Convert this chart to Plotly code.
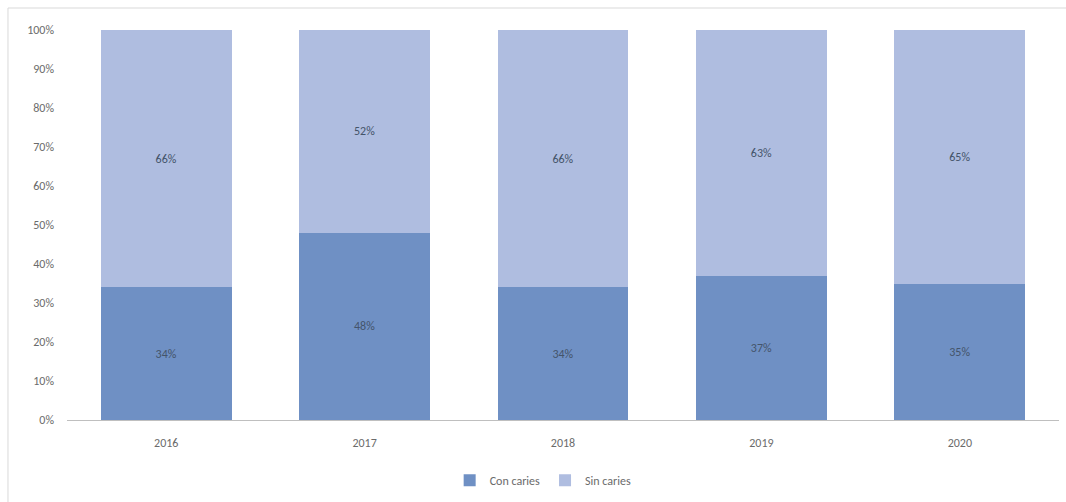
import plotly.graph_objects as go

# Annual share of examined patients with and without caries
years = ["2016", "2017", "2018", "2019", "2020"]
con_caries = [34, 48, 34, 37, 35]
sin_caries = [66, 52, 66, 63, 65]

color_con = "#6f90c4"
color_sin = "#afbde0"
label_color = "#44546a"
tick_color = "#6b6b6b"
font_family = "Calibri, Carlito, Open Sans, Liberation Sans, sans-serif"

fig = go.Figure()
fig.add_trace(go.Bar(
    x=years, y=con_caries, name="Con caries",
    marker=dict(color=color_con, line=dict(width=0)),
    text=[f"{v}%" for v in con_caries], textposition="inside",
    insidetextanchor="middle",
    textfont=dict(color=label_color, size=12, family=font_family),
))
fig.add_trace(go.Bar(
    x=years, y=sin_caries, name="Sin caries",
    marker=dict(color=color_sin, line=dict(width=0)),
    text=[f"{v}%" for v in sin_caries], textposition="inside",
    insidetextanchor="middle",
    textfont=dict(color=label_color, size=12, family=font_family),
))

# Outer chart frame (runs past the right and bottom page edges)
fig.add_shape(type="rect", xref="paper", yref="paper",
              x0=-0.0595, x1=1.02, y0=-0.23, y1=1.0564,
              line=dict(color="#d9d9d9", width=1), fillcolor="rgba(0,0,0,0)")

fig.update_layout(
    width=1066, height=502,
    barmode="stack", bargap=0.34,
    margin=dict(l=67, r=7, t=30, b=82, autoexpand=False),
    paper_bgcolor="white", plot_bgcolor="white",
    font=dict(family=font_family, size=12, color=tick_color),
    uniformtext=dict(mode="show", minsize=12),
    legend=dict(orientation="h", x=0.48, xanchor="center", y=-0.117, yanchor="top",
                font=dict(size=12, color=tick_color), traceorder="normal",
                itemwidth=30),
    showlegend=True,
)
fig.update_xaxes(showline=True, linecolor="#bfbfbf", linewidth=1, ticks="",
                 tickfont=dict(size=12, color=tick_color), showgrid=False,
                 ticklabelstandoff=12)
fig.update_yaxes(range=[0, 100], tickvals=list(range(0, 101, 10)),
                 ticktext=[f"{v}%" for v in range(0, 101, 10)],
                 showgrid=False, zeroline=False, showline=False,
                 tickfont=dict(size=12, color=tick_color), ticklabelstandoff=12)

fig.write_html("out.html")
